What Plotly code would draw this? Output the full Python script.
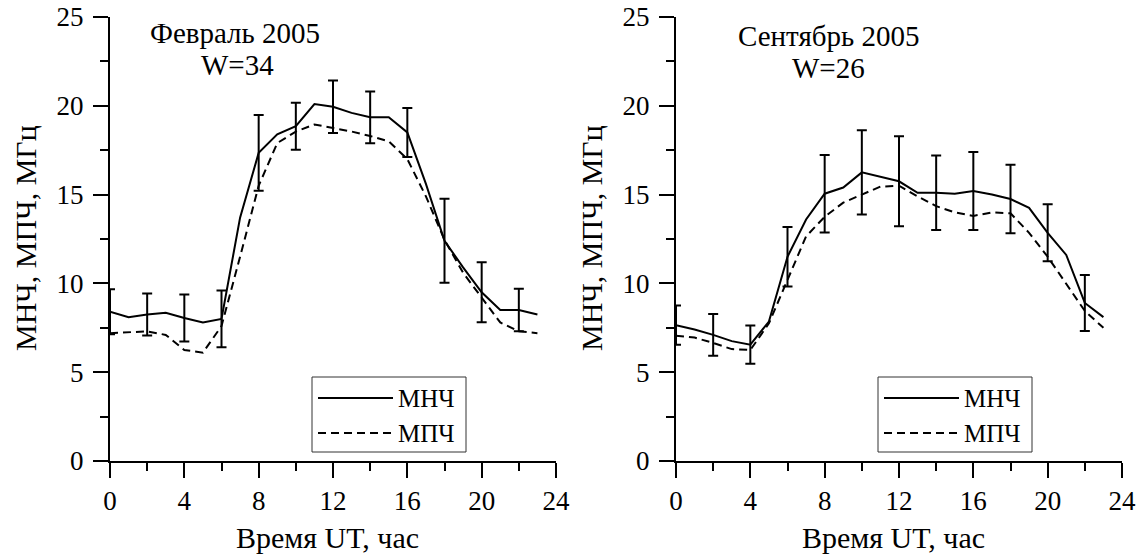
import plotly.graph_objects as go

# ---------------- data ----------------
hours = list(range(24))

feb_mnch = [8.4, 8.1, 8.25, 8.35, 8.05, 7.8, 8.0, 13.7, 17.35, 18.4, 18.85, 20.1,
            19.95, 19.6, 19.35, 19.35, 18.5, 15.6, 12.4, 10.9, 9.5, 8.5, 8.5, 8.25]
feb_mpch = [7.2, 7.25, 7.3, 7.1, 6.25, 6.1, 7.6, 11.5, 15.5, 17.9, 18.55, 18.95,
            18.75, 18.55, 18.3, 18.0, 17.0, 14.9, 12.45, 10.6, 9.2, 7.8, 7.3, 7.2]
feb_err = [1.27, 1.18, 1.32, 1.6, 2.13, 1.32, 1.48, 1.46, 1.38, 2.36, 1.69, 1.2]

sep_mnch = [7.65, 7.4, 7.1, 6.75, 6.55, 7.85, 11.5, 13.6, 15.05, 15.4, 16.25, 16.0,
            15.75, 15.1, 15.1, 15.05, 15.2, 15.0, 14.75, 14.25, 12.85, 11.6, 8.9, 8.1]
sep_mpch = [7.05, 6.95, 6.65, 6.3, 6.25, 7.75, 10.2, 12.65, 13.75, 14.55, 15.0, 15.45,
            15.5, 14.9, 14.35, 14.0, 13.8, 14.0, 13.95, 12.85, 11.5, 10.0, 8.45, 7.5]
sep_err = [1.1, 1.17, 1.08, 1.68, 2.18, 2.37, 2.53, 2.1, 2.2, 1.93, 1.6, 1.58]

panel_titles = ["Февраль 2005", "Сентябрь 2005"]
panel_w = ["W=34", "W=26"]
series_names = ["МНЧ", "МПЧ"]
x_title = "Время UT, час"
y_title = "МНЧ, МПЧ, МГц"
x_ticks = [0, 4, 8, 12, 16, 20, 24]
y_ticks = [0, 5, 10, 15, 20, 25]

# ---------------- layout helpers ----------------
W, H = 1139, 555
FONT = "Liberation Serif, Times New Roman, serif"
DASH = "8px,5px"


def px(x):
    return x / W


def py(y):
    return 1 - y / H


fig = go.Figure()

panels = [
    dict(mnch=feb_mnch, mpch=feb_mpch, err=feb_err, xa="x", ya="y"),
    dict(mnch=sep_mnch, mpch=sep_mpch, err=sep_err, xa="x2", ya="y2"),
]

for p in panels:
    fig.add_trace(go.Scatter(x=hours, y=p["mnch"], mode="lines", name=series_names[0],
                             line=dict(color="black", width=2), xaxis=p["xa"], yaxis=p["ya"],
                             showlegend=False))
    fig.add_trace(go.Scatter(x=hours, y=p["mpch"], mode="lines", name=series_names[1],
                             line=dict(color="black", width=2, dash=DASH),
                             xaxis=p["xa"], yaxis=p["ya"], showlegend=False))
    fig.add_trace(go.Scatter(x=hours[::2], y=p["mnch"][::2], mode="markers",
                             marker=dict(size=1, opacity=0, color="black"),
                             error_y=dict(type="data", array=p["err"], visible=True,
                                          color="black", thickness=2, width=5),
                             xaxis=p["xa"], yaxis=p["ya"], showlegend=False,
                             hoverinfo="skip"))

axis_common = dict(
    showline=True, linecolor="black", linewidth=2, mirror=False,
    showgrid=False, zeroline=False, automargin=False,
    ticks="outside", ticklen=15, tickwidth=2, tickcolor="black",
    tickfont=dict(family=FONT, size=27, color="black"),
)

x_domains = [[px(110), px(556)], [px(676), px(1122)]]
y_domain = [py(461), py(17)]

for i, dom in enumerate(x_domains):
    suffix = "" if i == 0 else str(i + 1)
    fig.layout["xaxis" + suffix] = dict(
        axis_common, domain=dom, range=[0, 24], tickvals=x_ticks,
        anchor="y" + suffix, ticklabelstandoff=0,
        minor=dict(tickvals=list(range(2, 24, 4)), ticklen=8, tickwidth=2,
                   tickcolor="black", ticks="outside"),
    )
    fig.layout["yaxis" + suffix] = dict(
        axis_common, domain=y_domain, range=[0, 25], tickvals=y_ticks,
        anchor="x" + suffix, ticklabelstandoff=4,
        minor=dict(tickvals=[2.5, 7.5, 12.5, 17.5, 22.5], ticklen=8, tickwidth=2,
                   tickcolor="black", ticks="outside"),
    )

annotations = []
shapes = []
x_centers = [327, 893]
y_title_x = [25, 591]
title_pos = [(235, 33, 237, 65), (828, 36, 828, 68)]
legend_left = [312, 878]

for i in range(2):
    annotations.append(dict(text=x_title, x=px(x_centers[i]), y=py(537), xref="paper", yref="paper",
                            showarrow=False, xanchor="center", yanchor="middle",
                            font=dict(family=FONT, size=30, color="black")))
    annotations.append(dict(text=y_title, x=px(y_title_x[i]), y=py(238), xref="paper", yref="paper",
                            showarrow=False, xanchor="center", yanchor="middle", textangle=-90,
                            font=dict(family=FONT, size=30, color="black")))
    tx, ty, wx, wy = title_pos[i]
    annotations.append(dict(text=panel_titles[i], x=px(tx), y=py(ty), xref="paper", yref="paper",
                            showarrow=False, xanchor="center", yanchor="middle",
                            font=dict(family=FONT, size=29, color="black")))
    annotations.append(dict(text=panel_w[i], x=px(wx), y=py(wy), xref="paper", yref="paper",
                            showarrow=False, xanchor="center", yanchor="middle",
                            font=dict(family=FONT, size=29, color="black")))
    # custom legend box
    lx = legend_left[i]
    shapes.append(dict(type="rect", xref="paper", yref="paper",
                       x0=px(lx), x1=px(lx + 154), y0=py(452), y1=py(377),
                       line=dict(color="#333333", width=1), fillcolor="white", layer="above"))
    for j, (yy, dash) in enumerate([(398, "solid"), (433, DASH)]):
        shapes.append(dict(type="line", xref="paper", yref="paper",
                           x0=px(lx + 6), x1=px(lx + 81), y0=py(yy), y1=py(yy),
                           line=dict(color="black", width=2, dash=dash), layer="above"))
        annotations.append(dict(text=series_names[j], x=px(lx + 84), y=py(yy), xref="paper",
                                yref="paper", showarrow=False, xanchor="left", yanchor="middle",
                                font=dict(family=FONT, size=25, color="black")))

fig.update_layout(
    width=W, height=H,
    margin=dict(l=0, r=0, t=0, b=0, pad=0, autoexpand=False),
    paper_bgcolor="white", plot_bgcolor="white",
    showlegend=False,
    annotations=annotations, shapes=shapes,
    font=dict(family=FONT, color="black"),
)

fig.write_html("out.html",
               config={"displayModeBar": False},
               post_script="document.body.style.margin='0';"
                           "document.documentElement.style.overflow='hidden';")
